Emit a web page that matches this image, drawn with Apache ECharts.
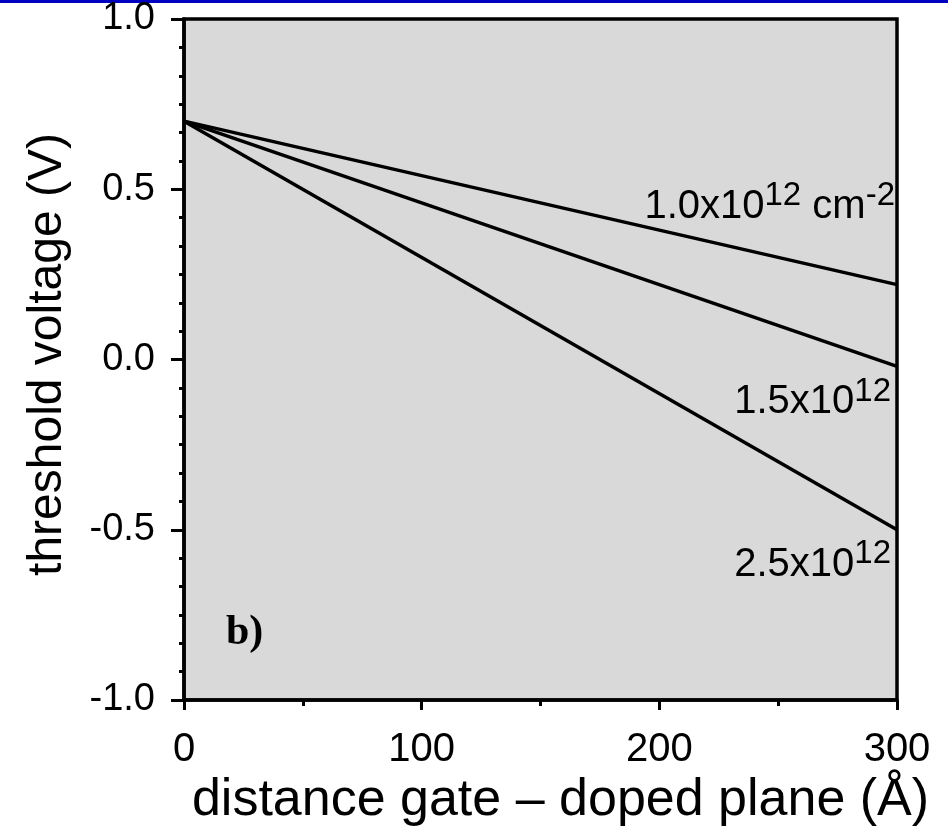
<!DOCTYPE html>
<html>
<head>
<meta charset="utf-8">
<script src="https://cdn.jsdelivr.net/npm/echarts@6/dist/echarts.min.js"></script>
<style>
  html, body { margin: 0; padding: 0; background: #fff; }
  #chart { width: 948px; height: 835px; }
</style>
</head>
<body>
<div id="chart"></div>
<script>
// distance gate - doped plane (Å)
const distance = [0, 300];
// threshold voltage (V) for each sheet doping
const vth10 = [0.70, 0.22];
const vth15 = [0.70, -0.02];
const vth25 = [0.70, -0.50];
const curveNames = ["1.0x10", "1.5x10", "2.5x10"];

const FONT = "'Liberation Sans', Arial, sans-serif";

const chart = echarts.init(document.getElementById("chart"));

const toPairs = ys => distance.map((x, i) => [x, ys[i]]);

const lineSeries = (name, ys) => ({
  name: name,
  type: "line",
  data: toPairs(ys),
  symbol: "none",
  silent: true,
  lineStyle: { color: "#000", width: 3.5 },
  z: 5
});

chart.setOption({
  animation: false,
  grid: {
    left: 184,
    right: 51,
    top: 15,
    bottom: 135,
    show: true,
    backgroundColor: "#d9d9d9",
    borderColor: "#000",
    borderWidth: 3.5
  },
  xAxis: {
    type: "value",
    min: 0,
    max: 300,
    interval: 100,
    name: "distance gate \u2013 doped plane (\u00c5)",
    nameLocation: "middle",
    nameGap: 72,
    nameTextStyle: { fontFamily: FONT, fontSize: 52, color: "#000", padding: [0, 0, 0, 40] },
    axisLine: { show: true, onZero: false, lineStyle: { color: "#000", width: 3.5 } },
    axisTick: { show: true, inside: false, length: 10, lineStyle: { color: "#000", width: 3 } },
    minorTick: { show: true, splitNumber: 2, length: 6, lineStyle: { color: "#000", width: 3 } },
    axisLabel: { fontFamily: FONT, fontSize: 40, color: "#000", margin: 30 },
    splitLine: { show: false }
  },
  yAxis: {
    type: "value",
    min: -1.0,
    max: 1.0,
    interval: 0.5,
    name: "threshold voltage (V)",
    nameLocation: "middle",
    nameGap: 112,
    nameTextStyle: { fontFamily: FONT, fontSize: 48, color: "#000", padding: [0, 0, 0, 10] },
    axisLine: { show: true, onZero: false, lineStyle: { color: "#000", width: 3.5 } },
    axisTick: { show: true, inside: false, length: 13, lineStyle: { color: "#000", width: 3 } },
    minorTick: { show: true, splitNumber: 6, length: 5, lineStyle: { color: "#000", width: 3 } },
    axisLabel: {
      fontFamily: FONT, fontSize: 38, color: "#000", margin: 29,
      formatter: v => v.toFixed(1)
    },
    splitLine: { show: false }
  },
  series: [
    lineSeries(curveNames[0], vth10),
    lineSeries(curveNames[1], vth15),
    lineSeries(curveNames[2], vth25)
  ]
});

// curve labels, anchored at the end of each line
const sup = { fontFamily: FONT, fontSize: 33, color: "#000", padding: [0, 0, 14, 0], verticalAlign: "bottom" };
const base = { fontFamily: FONT, fontSize: 40, color: "#000", verticalAlign: "bottom" };
const rich = { b: base, s: sup };

const endPx = ys => chart.convertToPixel({ gridIndex: 0 }, [distance[1], ys[1]]);
const p10 = endPx(vth10);
const p15 = endPx(vth15);
const p25 = endPx(vth25);

chart.setOption({
  graphic: [
    {
      type: "rect",
      shape: { x: 0, y: 0, width: 948, height: 3 },
      style: { fill: "#0000c0" },
      silent: true
    },
    {
      type: "text",
      x: p10[0] - 2,
      y: p10[1] - 58,
      style: {
        text: "{b|" + curveNames[0] + "}{s|12}{b| cm}{s|-2}",
        rich: rich,
        align: "right",
        verticalAlign: "bottom"
      },
      z: 10
    },
    {
      type: "text",
      x: p15[0] - 6,
      y: p15[1] + 56,
      style: {
        text: "{b|" + curveNames[1] + "}{s|12}",
        rich: rich,
        align: "right",
        verticalAlign: "bottom"
      },
      z: 10
    },
    {
      type: "text",
      x: p25[0] - 6,
      y: p25[1] + 55,
      style: {
        text: "{b|" + curveNames[2] + "}{s|12}",
        rich: rich,
        align: "right",
        verticalAlign: "bottom"
      },
      z: 10
    },
    {
      type: "text",
      x: 226,
      y: 654,
      style: {
        text: "b)",
        fontFamily: "'Liberation Serif', 'Times New Roman', serif",
        fontWeight: "bold",
        fontSize: 42,
        fill: "#000",
        align: "left",
        verticalAlign: "bottom"
      },
      z: 10
    }
  ]
});
</script>
</body>
</html>
